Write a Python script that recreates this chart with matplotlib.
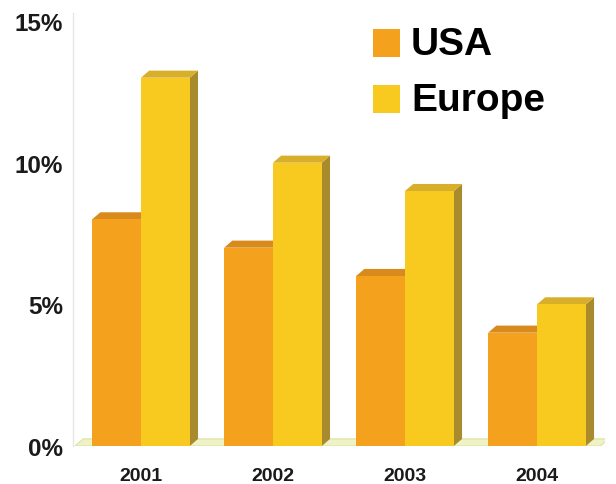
import matplotlib
matplotlib.use("Agg")
import matplotlib.pyplot as plt
from matplotlib.patches import Polygon, Rectangle
from matplotlib.transforms import blended_transform_factory

years = ["2001", "2002", "2003", "2004"]
usa = [8, 7, 6, 4]
europe = [13, 10, 9, 5]
series_names = ["USA", "Europe"]
y_ticks = [0, 5, 10, 15]
y_tick_labels = ["0%", "5%", "10%", "15%"]

W, H = 616, 485
fig = plt.figure(figsize=(W / 100, H / 100), dpi=100)
fig.patch.set_facecolor("white")

px_per_unit = 28.33
x0_px, x1_px = 73, 605
base_px = 447
ytop = 15.5
ax = fig.add_axes([x0_px / W, (H - base_px) / H,
                   (x1_px - x0_px) / W, ytop * px_per_unit / H])
ax.set_xlim(-0.515, 3.515)
ax.set_ylim(0, ytop)

bar_w = 0.37
dx = 0.062
dy = 0.25

palette = {
    "USA": dict(front="#F4A11E", top="#D98A1C", side="#B97718"),
    "Europe": dict(front="#F8CA20", top="#D8AF2A", side="#A88B2C"),
}

# floor slab
fl0, fl1 = -0.5, 3.48
ax.add_patch(Polygon([(fl0, 0), (fl0 + dx, dy), (fl1 + dx, dy), (fl1, 0)],
                     closed=True, facecolor="#EEF2C4", edgecolor="#DCE3A0",
                     lw=0.8, zorder=1))


def bar3d(xl, v, c, z):
    xr = xl + bar_w
    ax.add_patch(Polygon([(xr, 0), (xr + dx, dy), (xr + dx, v + dy), (xr, v)],
                         closed=True, facecolor=c["side"], edgecolor="none", zorder=z))
    ax.add_patch(Polygon([(xl, v), (xl + dx, v + dy), (xr + dx, v + dy), (xr, v)],
                         closed=True, facecolor=c["top"], edgecolor="none", zorder=z))
    ax.add_patch(Rectangle((xl, 0), bar_w, v, facecolor=c["front"],
                           edgecolor="none", zorder=z + 0.5))


for i in range(len(years)):
    bar3d(i - bar_w, usa[i], palette["USA"], 2)
    bar3d(i, europe[i], palette["Europe"], 3)

for s in ["top", "right", "bottom"]:
    ax.spines[s].set_visible(False)
ax.spines["left"].set_color("#E6E6E6")
ax.spines["left"].set_linewidth(1.0)
ax.spines["left"].set_bounds(0, 15.3)

font = "Liberation Sans"
ax.set_yticks(y_ticks)
ax.set_yticklabels(y_tick_labels, fontsize=17.5, fontweight="bold",
                   family=font, color="#1a1a1a")
ax.set_xticks([])
ax.tick_params(axis="both", length=0)
ax.tick_params(axis="y", pad=7)

# year labels, baseline placed in figure pixels
tr = blended_transform_factory(ax.transData, fig.transFigure)
for i, yr in enumerate(years):
    ax.text(i, 1 - 481.5 / H, yr, transform=tr, fontsize=14, fontweight="bold",
            family=font, color="#1a1a1a", ha="center", va="baseline",
            clip_on=False)

# legend
leg_items = [(series_names[0], palette["USA"]["front"], 44),
             (series_names[1], palette["Europe"]["front"], 100)]
for name, col, yc in leg_items:
    fig.patches.append(Rectangle((373 / W, 1 - (yc + 14) / H), 27 / W, 28 / H,
                                 transform=fig.transFigure, facecolor=col,
                                 edgecolor="none"))
    fig.text(411 / W, 1 - (yc + 1) / H, name, fontsize=28, fontweight="bold",
             family=font, color="black", va="center", ha="left")

fig.savefig("out.png", dpi=100, facecolor="white")
